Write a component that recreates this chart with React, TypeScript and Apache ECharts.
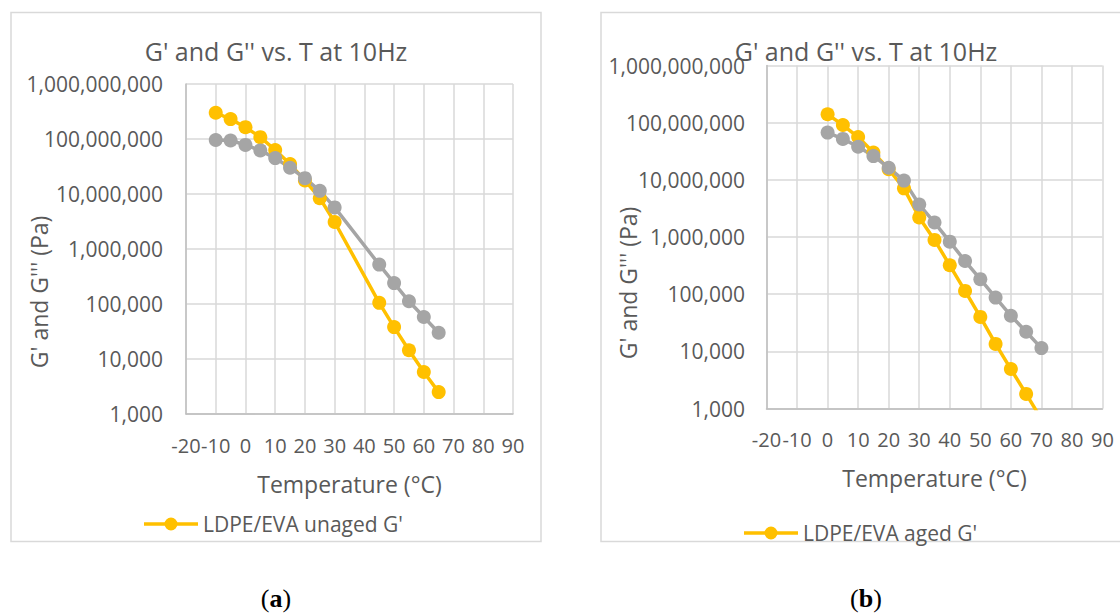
import React, { useEffect, useRef } from "react";
import * as echarts from "echarts";

const chartTitle = "G' and G'' vs. T at 10Hz";
const xName = "Temperature (°C)";
const yName = "G' and G''' (Pa)";

const xTicks = [-20, 90, 10]; // min, max, interval
const yRange = [1000, 1000000000];

const tempsUnaged = [-10, -5, 0, 5, 10, 15, 20, 25, 30, 45, 50, 55, 60, 65];
const unagedGp = [3.0e8, 2.3e8, 1.64e8, 1.08e8, 6.3e7, 3.5e7, 1.76e7, 8.4e6, 3.1e6, 1.05e5, 3.8e4, 1.44e4, 5.8e3, 2.5e3];
const unagedGpp = [9.6e7, 9.4e7, 7.8e7, 6.2e7, 4.5e7, 3.0e7, 1.94e7, 1.14e7, 5.7e6, 5.2e5, 2.4e5, 1.12e5, 5.8e4, 3.0e4];

const tempsAged = [0, 5, 10, 15, 20, 25, 30, 35, 40, 45, 50, 55, 60, 65, 70];
const agedGp = [1.4e8, 9.1e7, 5.6e7, 3.0e7, 1.53e7, 7.1e6, 2.2e6, 8.9e5, 3.2e5, 1.14e5, 4.0e4, 1.35e4, 4.9e3, 1.8e3, 6.5e2];
const agedGpp = [6.7e7, 5.2e7, 3.8e7, 2.6e7, 1.63e7, 9.7e6, 3.7e6, 1.79e6, 8.3e5, 3.8e5, 1.83e5, 8.7e4, 4.2e4, 2.2e4, 1.14e4];

const names = {
  unagedGp: "LDPE/EVA unaged G'",
  unagedGpp: "LDPE/EVA unaged G''",
  agedGp: "LDPE/EVA aged G'",
  agedGpp: "LDPE/EVA aged G''",
};

const YELLOW = "#FFC000";
const GRAY = "#A5A5A5";
const TEXT = "#595959";
const GRID = "#D9D9D9";
const AXIS = "#BFBFBF";
const FONT = "'Open Sans', sans-serif";

// legend icon: thick line with a dot in its middle (54 x 13 box)
const LEGEND_ICON =
  "path://M0,4.75 H54 V8.25 H0 Z M33.5,6.5 A6.5,6.5 0 1,1 20.5,6.5 A6.5,6.5 0 1,1 33.5,6.5 Z";

function pairs(xs: number[], ys: number[]) {
  return xs.map((x, i) => [x, ys[i]]);
}

function fmt(v: number) {
  return Math.round(v).toLocaleString("en-US");
}

function makeX(gridIndex: number, margin: number, nameGap: number) {
  return {
    type: "value",
    gridIndex,
    min: xTicks[0],
    max: xTicks[1],
    interval: xTicks[2],
    name: xName,
    nameLocation: "middle",
    nameGap,
    nameTextStyle: { fontFamily: FONT, fontSize: 23, color: TEXT },
    axisLine: { show: true, onZero: false, lineStyle: { color: AXIS, width: 1.5 } },
    axisTick: { show: false },
    axisLabel: {
      fontFamily: FONT,
      fontSize: 20,
      color: TEXT,
      margin,
      showMinLabel: true,
      showMaxLabel: true,
      hideOverlap: false,
    },
    splitLine: { show: true, lineStyle: { color: GRID, width: 1.5 } },
  };
}

function makeY(gridIndex: number, margin: number) {
  return {
    type: "log",
    logBase: 10,
    gridIndex,
    min: yRange[0],
    max: yRange[1],
    axisLine: { show: true, onZero: false, lineStyle: { color: AXIS, width: 1.5 } },
    axisTick: { show: false },
    axisLabel: {
      fontFamily: FONT,
      fontSize: 21,
      color: TEXT,
      margin,
      showMinLabel: true,
      showMaxLabel: true,
      formatter: (v: number) => fmt(v),
    },
    splitLine: { show: true, lineStyle: { color: GRID, width: 1.5 } },
  };
}

function makeSeries(name: string, xs: number[], ys: number[], color: string, idx: number) {
  return {
    type: "line",
    name,
    xAxisIndex: idx,
    yAxisIndex: idx,
    data: pairs(xs, ys),
    symbol: "circle",
    symbolSize: 14,
    showSymbol: true,
    clip: true,
    lineStyle: { color, width: 3.5 },
    itemStyle: { color },
    emphasis: { disabled: true },
  };
}

function caption(letter: string, x: number) {
  return {
    type: "text",
    x,
    y: 598,
    style: {
      text: "{n|(}{b|" + letter + "}{n|)}",
      align: "center",
      verticalAlign: "middle",
      rich: {
        n: { fontFamily: "'Liberation Serif', serif", fontSize: 26, fill: "#000", fontWeight: "normal" },
        b: { fontFamily: "'Liberation Serif', serif", fontSize: 26, fill: "#000", fontWeight: "bold" },
      },
    },
  };
}

function yTitle(x: number, y: number) {
  return {
    type: "text",
    x,
    y,
    rotation: Math.PI / 2,
    style: {
      text: yName,
      fontFamily: FONT,
      fontSize: 23,
      fill: TEXT,
      align: "center",
      verticalAlign: "middle",
    },
  };
}

function makeLegend(name: string, left: number, top: number) {
  return {
    data: [{ name, icon: LEGEND_ICON, itemStyle: { color: YELLOW, borderWidth: 0 } }],
    left,
    top,
    padding: 0,
    itemWidth: 54,
    itemHeight: 13,
    selectedMode: false,
    textStyle: { fontFamily: FONT, fontSize: 21, color: TEXT, lineHeight: 13 },
  };
}

export default function App() {
  const ref = useRef<HTMLDivElement>(null);

  useEffect(() => {
    if (!ref.current) return;
    const chart = echarts.init(ref.current, undefined, { renderer: "svg" });
    const option: any = {
      animation: false,
      backgroundColor: "#ffffff",
      title: [
        {
          text: chartTitle,
          left: 276,
          top: 51,
          padding: 0,
          textAlign: "center",
          textVerticalAlign: "middle",
          textStyle: { fontFamily: FONT, fontSize: 25, fontWeight: "normal", color: TEXT },
        },
        {
          text: chartTitle,
          left: 866,
          top: 51,
          padding: 0,
          textAlign: "center",
          textVerticalAlign: "middle",
          textStyle: { fontFamily: FONT, fontSize: 25, fontWeight: "normal", color: TEXT },
        },
      ],
      legend: [makeLegend(names.unagedGp, 144, 513.5), makeLegend(names.agedGp, 744, 522.5)],
      grid: [
        { left: 186, top: 84, width: 327, height: 330, containLabel: false },
        { left: 766.5, top: 65.5, width: 336, height: 343, containLabel: false },
      ],
      xAxis: [makeX(0, 21, 58), makeX(1, 20.5, 57.5)],
      yAxis: [makeY(0, 23), makeY(1, 21.5)],
      series: [
        makeSeries(names.unagedGp, tempsUnaged, unagedGp, YELLOW, 0),
        makeSeries(names.unagedGpp, tempsUnaged, unagedGpp, GRAY, 0),
        makeSeries(names.agedGp, tempsAged, agedGp, YELLOW, 1),
        makeSeries(names.agedGpp, tempsAged, agedGpp, GRAY, 1),
      ],
      graphic: [
        {
          type: "rect",
          shape: { x: 11, y: 12.5, width: 530, height: 529 },
          style: { fill: "none", stroke: GRID, lineWidth: 1.5 },
          z: -10,
        },
        {
          type: "rect",
          shape: { x: 601, y: 12.5, width: 530, height: 529 },
          style: { fill: "none", stroke: GRID, lineWidth: 1.5 },
          z: -10,
        },
        yTitle(39, 292),
        yTitle(628, 283),
        caption("a", 276),
        caption("b", 866),
      ],
    };
    chart.setOption(option);
    return () => chart.dispose();
  }, []);

  return (
    <div
      ref={ref}
      style={{ position: "fixed", left: 0, top: 0, width: 1120, height: 613, background: "#fff" }}
    />
  );
}
